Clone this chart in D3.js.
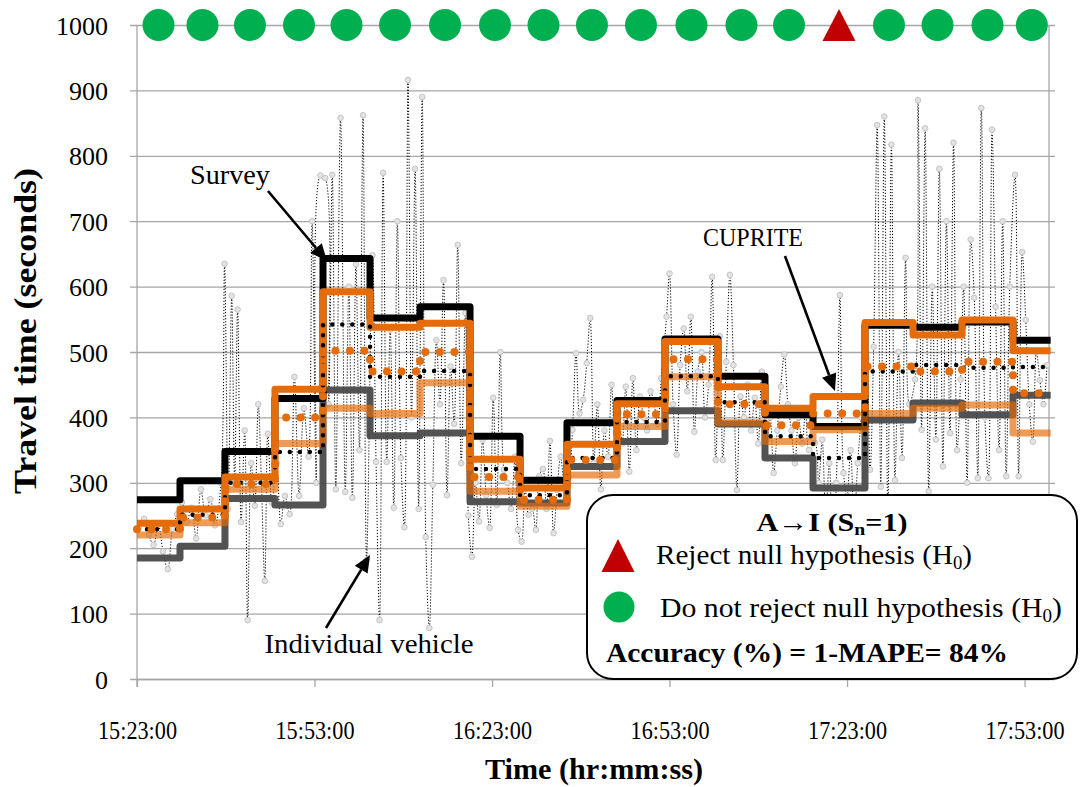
<!DOCTYPE html>
<html><head><meta charset="utf-8">
<script src="https://cdn.jsdelivr.net/npm/d3@7"></script>
<style>
body{margin:0;background:#fff}
svg{display:block}
text{font-family:"Liberation Serif","Times New Roman",serif;fill:#000}
</style>
</head><body>
<svg id="chart" width="1080" height="787"></svg>
<script>
// ---------------- DATA ----------------
const intervalStarts = ["15:23:00","15:30:16","15:37:52","15:46:19","15:54:26","16:02:23","16:10:50","16:19:17","16:27:44","16:35:40","16:44:07","16:52:14","17:01:11","17:09:08","17:17:15","17:26:02","17:34:09","17:42:26","17:51:03"];
const intervalEnd = "17:57:25";
const axisStart = "15:23:00";
const axisEnd = "17:57:08";

const surveySeries   = [274,303,348,429,643,552,569,371,304,392,426,520,463,404,386,541,538,546,518];
const cupriteSeries  = [238,260,309,443,592,538,544,336,292,359,421,516,447,414,432,545,526,549,502];
const seriesC        = [220,239,290,360,414,406,453,287,264,312,386,462,392,363,381,406,414,419,376];
const seriesD        = [185,203,276,266,442,372,376,271,269,325,363,410,390,338,292,396,422,404,434];
const surveyDotted   = [229,251,300,347,542,462,471,321,281,338,393,463,423,371,338,470,480,476,477];
const cupriteDotted  = [229,247,298,400,502,470,500,309,274,335,405,489,420,388,406,478,470,485,437];
const testResults    = ["keep","keep","keep","keep","keep","keep","keep","keep","keep","keep","keep","keep","keep","keep","reject","keep","keep","keep","keep"];

// individual vehicles: minutes after 15:23:00, travel time (s)
const vehMinutes = [0.3,1.2,2.0,2.8,3.6,4.4,5.2,6.0,6.8,
 7.6,8.4,9.2,10.0,10.8,11.6,12.4,13.2,14.2,
 14.8,15.4,16.0,16.5,17.0,17.6,18.2,18.7,19.3,19.9,20.5,21.0,21.6,22.1,22.8,
 23.6,24.3,25.0,25.8,26.6,27.4,28.2,29.0,29.6,30.3,31.0,
 31.8,32.4,33.0,33.6,34.4,35.2,35.8,36.4,37.0,37.6,38.2,38.8,
 39.8,40.4,41.0,41.6,42.2,42.8,43.4,44.0,44.6,45.2,45.8,46.4,47.0,47.6,
 48.2,48.8,49.4,50.0,50.6,51.2,51.8,52.4,53.0,53.6,54.2,54.8,55.5,56.0,
 56.6,57.2,57.8,58.4,59.0,59.6,60.2,60.8,61.4,62.0,62.6,63.2,63.9,64.4,
 65.0,65.6,66.2,66.8,67.4,68.0,68.6,69.2,69.8,70.4,71.0,71.6,72.3,
 73.0,73.6,74.2,74.8,75.4,76.0,76.6,77.2,77.8,78.4,79.0,79.6,80.2,80.8,
 81.4,82.0,82.6,83.2,83.8,84.4,85.0,85.6,86.2,86.8,87.4,88.0,88.6,
 89.5,90.0,90.6,91.2,91.8,92.4,93.0,93.6,94.2,94.8,95.4,96.0,96.6,97.2,97.8,
 98.5,99.0,99.6,100.2,100.8,101.4,102.0,102.6,103.2,103.8,104.4,105.0,105.6,
 106.4,107.0,107.6,108.2,108.8,109.4,110.0,110.6,111.2,111.8,112.4,113.0,113.6,
 114.6,115.2,115.8,116.4,117.0,117.6,118.2,118.8,119.4,120.0,120.6,121.2,121.8,122.4,
 123.3,123.9,124.5,125.1,125.7,126.3,126.9,127.5,128.1,128.7,129.3,129.9,130.5,
 131.5,132.0,132.6,133.2,133.8,134.4,135.0,135.6,136.2,136.8,137.4,138.0,138.6,139.2,
 139.7,140.3,140.9,141.5,142.1,142.7,143.3,143.9,144.5,145.1,145.7,146.3,146.9,147.5,
 148.4,149.0,149.6,150.2,150.8,151.4,152.0,152.6,153.2,153.8];
const vehValues = [232,245,220,205,236,195,168,230,252,
 270,240,262,215,290,250,275,235,300,
 635,260,586,300,565,240,380,90,330,265,420,310,150,375,270,
 330,237,280,252,462,280,414,340,700,300,770,
 766,420,771,290,858,286,600,277,634,350,862,182,
 648,332,90,774,332,534,262,700,338,232,916,400,780,260,
 890,217,78,297,518,420,610,281,478,390,664,330,560,250,
 187,300,241,366,281,231,430,266,500,320,300,260,340,228,
 210,290,251,260,228,310,321,260,364,223,289,340,300,
 310,381,498,406,427,483,552,330,420,290,380,340,450,360,
 407,360,447,317,460,350,432,400,380,440,420,390,460,
 554,620,420,343,480,536,440,554,378,470,500,400,450,615,335,
 524,335,485,618,480,289,432,400,450,380,430,360,470,
 366,400,315,380,447,496,420,380,330,400,360,410,350,
 361,300,366,250,330,200,300,587,315,280,350,240,330,400,
 491,320,508,847,294,860,250,817,304,500,338,644,420,
 458,885,381,842,287,600,366,780,325,700,376,820,350,458,
 600,300,672,583,307,873,400,307,840,569,350,700,310,600,
 771,310,653,549,420,363,500,457,420,480];

const yTickValues = [0,100,200,300,400,500,600,700,800,900,1000];
const xTickLabels = ["15:23:00","15:53:00","16:23:00","16:53:00","17:23:00","17:53:00"];

// ---------------- CHART ----------------
const svg = d3.select("#chart");
const parse = d3.timeParse("%H:%M:%S");
const t0 = parse(axisStart);
const x = d3.scaleTime().domain([t0, parse(axisEnd)]).range([137, 1049]);
const y = d3.scaleLinear().domain([0, 1000]).range([679, 25]);

// gridlines + y axis
const yAxis = d3.axisLeft(y).tickValues(yTickValues).tickSize(-(1055 - 137)).tickSizeOuter(0).tickFormat(d3.format("d")).tickPadding(30);
const gY = svg.append("g").attr("transform","translate(137,0)").call(yAxis);
gY.select(".domain").remove();
gY.selectAll(".tick line").attr("stroke","#a6a6a6").attr("stroke-width",1.3).attr("x1",-7);
gY.selectAll(".tick text").attr("font-size",26).attr("x",-29).attr("dy","0.35em")
  .style("font-family",'"Liberation Serif",serif');
// left axis & right border
svg.append("line").attr("x1",137).attr("x2",137).attr("y1",y(1000)).attr("y2",687).attr("stroke","#a6a6a6").attr("stroke-width",1.3);
svg.append("line").attr("x1",1049).attr("x2",1049).attr("y1",y(1000)).attr("y2",y(0)).attr("stroke","#a6a6a6").attr("stroke-width",1.3);

// x axis
const xTicks = xTickLabels.map(parse);
const xAxis = d3.axisBottom(x).tickValues(xTicks).tickFormat(d3.timeFormat("%H:%M:%S")).tickSize(8).tickSizeOuter(0).tickPadding(34);
const gX = svg.append("g").attr("transform",`translate(0,${y(0)})`).call(xAxis);
gX.select(".domain").attr("stroke","#a6a6a6").attr("stroke-width",1.3);
gX.selectAll(".tick line").attr("stroke","#a6a6a6").attr("stroke-width",1.3);
gX.selectAll(".tick text").attr("font-size",25).attr("dy",0).attr("y",60)
  .attr("textLength",79).attr("lengthAdjust","spacingAndGlyphs")
  .style("font-family",'"Liberation Serif",serif');

// individual vehicles
const vehData = vehMinutes.map((m,i)=>({t:new Date(t0.getTime()+m*60000), v:vehValues[i]}));
const vehLine = d3.line().x(d=>x(d.t)).y(d=>y(d.v)).curve(d3.curveCatmullRom.alpha(0.5));
svg.append("path").datum(vehData).attr("d",vehLine).attr("fill","none")
  .attr("stroke","#000").attr("stroke-width",1).attr("stroke-dasharray","1.2,1.8");
svg.append("g").selectAll("circle").data(vehData).join("circle")
  .attr("cx",d=>x(d.t)).attr("cy",d=>y(d.v)).attr("r",2.8)
  .attr("fill","#e3e3e3").attr("stroke","#c4c4c4").attr("stroke-width",1);

// step series
const starts = intervalStarts.map(parse);
const endT = parse(intervalEnd);
function stepData(vals){
  const pts = starts.map((t,i)=>[x(t), y(vals[i])]);
  pts.push([x(endT), y(vals[vals.length-1])]);
  return pts;
}
const stepLine = d3.line().curve(d3.curveStepAfter);
function drawStep(vals, color, width, opts={}){
  const p = svg.append("path").attr("d", stepLine(stepData(vals))).attr("fill","none")
    .attr("stroke",color).attr("stroke-width",width)
    .attr("stroke-linejoin","round").attr("stroke-linecap", opts.cap||"butt");
  if (opts.dash) p.attr("stroke-dasharray",opts.dash);
  if (opts.opacity) p.attr("stroke-opacity",opts.opacity);
  return p;
}
drawStep(seriesD, "#4a4a4a", 7, {opacity:0.95});
drawStep(surveySeries, "#000000", 7);
drawStep(seriesC, "#E46C0A", 7, {opacity:0.68});
drawStep(cupriteSeries, "#E46C0A", 7);
drawStep(surveyDotted, "#000000", 4.5, {dash:"0,10", cap:"round"});
drawStep(cupriteDotted, "#E46C0A", 8, {dash:"0,14.5", cap:"round"});

// hypothesis test markers at y=1000
const mids = starts.map((t,i)=> new Date((t.getTime() + (i<starts.length-1? starts[i+1]:endT).getTime())/2));
const mk = svg.append("g");
testResults.forEach((r,i)=>{
  const cx = x(mids[i]), cy = y(1000);
  if (r==="reject") {
    mk.append("path").attr("d",`M${cx},${cy-16}L${cx+16.5},${cy+16}L${cx-16.5},${cy+16}Z`).attr("fill","#C00000");
  } else {
    mk.append("circle").attr("cx",cx).attr("cy",cy).attr("r",16).attr("fill","#00B050");
  }
});

// annotations with arrows
function arrow(x1,y1,x2,y2){
  const ang = Math.atan2(y2-y1,x2-x1), L=17, W=7.5;
  const bx = x2 - L*Math.cos(ang), by = y2 - L*Math.sin(ang);
  svg.append("line").attr("x1",x1).attr("y1",y1).attr("x2",bx).attr("y2",by).attr("stroke","#000").attr("stroke-width",2.6);
  const px = -Math.sin(ang)*W, py = Math.cos(ang)*W;
  svg.append("path").attr("d",`M${x2},${y2}L${bx+px},${by+py}L${bx-px},${by-py}Z`).attr("fill","#000");
}
function label(txt, cx, by, len, size, bold){
  return svg.append("text").attr("x",cx).attr("y",by).attr("text-anchor","middle")
    .attr("font-size",size).attr("font-weight",bold?"bold":"normal")
    .attr("textLength",len).attr("lengthAdjust","spacingAndGlyphs").text(txt);
}
label("Survey", 230, 184, 80, 27);
arrow(268,191,327,261);
label("CUPRITE", 753, 246, 100, 26);
arrow(785,256,835,391);
label("Individual vehicle", 369, 653, 209, 27);
arrow(326,628,370,555);

// legend box
const lg = svg.append("g");
lg.append("rect").attr("x",587).attr("y",495).attr("width",490).attr("height",184).attr("rx",26)
  .attr("fill","#fff").attr("stroke","#000").attr("stroke-width",2);
const tt = lg.append("text").attr("x",832).attr("y",531).attr("text-anchor","middle").attr("font-size",26).attr("font-weight","bold")
  .attr("textLength",151).attr("lengthAdjust","spacingAndGlyphs");
tt.append("tspan").text("A→I (S");
tt.append("tspan").attr("font-size",17).attr("dy",4).text("n");
tt.append("tspan").attr("dy",-4).text("=1)");
lg.append("path").attr("d","M618,539L634.5,572L601.5,572Z").attr("fill","#C00000");
const t1 = lg.append("text").attr("x",656).attr("y",564).attr("font-size",28).attr("textLength",316).attr("lengthAdjust","spacingAndGlyphs");
t1.append("tspan").text("Reject null hypothesis (H");
t1.append("tspan").attr("font-size",18).attr("dy",5).text("0");
t1.append("tspan").attr("dy",-5).text(")");
lg.append("circle").attr("cx",619).attr("cy",607).attr("r",15.5).attr("fill","#00B050");
const t2 = lg.append("text").attr("x",660).attr("y",617).attr("font-size",28).attr("textLength",402).attr("lengthAdjust","spacingAndGlyphs");
t2.append("tspan").text("Do not reject null hypothesis (H");
t2.append("tspan").attr("font-size",18).attr("dy",5).text("0");
t2.append("tspan").attr("dy",-5).text(")");
lg.append("text").attr("x",606).attr("y",662).attr("font-size",28).attr("font-weight","bold")
  .attr("textLength",402).attr("lengthAdjust","spacingAndGlyphs").text("Accuracy (%) = 1-MAPE= 84%");

// axis titles
svg.append("text").attr("transform","translate(36,331) rotate(-90)").attr("text-anchor","middle")
  .attr("font-size",31).attr("font-weight","bold").attr("textLength",326).attr("lengthAdjust","spacingAndGlyphs")
  .text("Travel time (seconds)");
svg.append("text").attr("x",594).attr("y",779).attr("text-anchor","middle")
  .attr("font-size",29).attr("font-weight","bold").attr("textLength",218).attr("lengthAdjust","spacingAndGlyphs")
  .text("Time (hr:mm:ss)");
</script>
</body></html>
